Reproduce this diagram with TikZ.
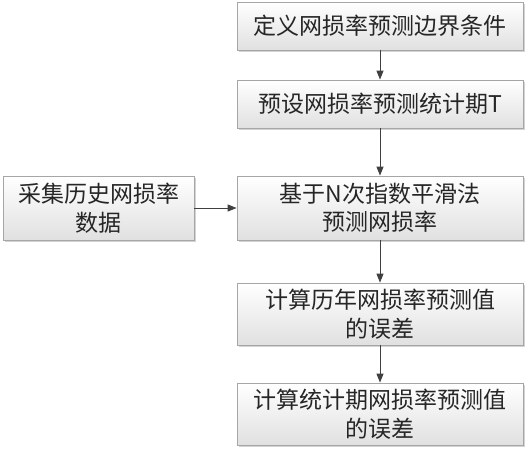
\documentclass[tikz,border=0pt]{standalone}
\usepackage{fontspec}
\setmainfont{Noto Sans CJK SC}
\usetikzlibrary{arrows.meta,shadows}
\begin{document}
\begin{tikzpicture}[x=1pt,y=1pt,
  box/.style={draw=black!35, line width=0.8pt, top color=white, bottom color=black!12,
    drop shadow={shadow xshift=1.5pt, shadow yshift=-1.5pt, opacity=0.35, fill=black!50},
    inner sep=0pt, align=center, font=\fontsize{23}{28.5}\selectfont, text=black!85},
  arr/.style={draw=black!75, line width=1pt, -{Triangle[length=9pt,width=7pt]}}]
\useasboundingbox (0,0) rectangle (527,-450);
\node[box, minimum width=286, minimum height=48] (b1) at (380,-26) {定义网损率预测边界条件};
\node[box, minimum width=286, minimum height=48] (b2) at (380,-104) {预设网损率预测统计期T};
\node[box, minimum width=286, minimum height=64] (b3) at (380,-208) {基于N次指数平滑法\\预测网损率};
\node[box, minimum width=191, minimum height=64] (l) at (98.5,-208) {采集历史网损率\\数据};
\node[box, minimum width=286, minimum height=62] (b4) at (380,-314) {计算历年网损率预测值\\的误差};
\node[box, minimum width=286, minimum height=62] (b5) at (380,-414) {计算统计期网损率预测值\\的误差};
\draw[arr] (b1) -- (b2);
\draw[arr] (b2) -- (b3);
\draw[arr] (l) -- (b3);
\draw[arr] (b3) -- (b4);
\draw[arr] (b4) -- (b5);
\end{tikzpicture}
\end{document}
